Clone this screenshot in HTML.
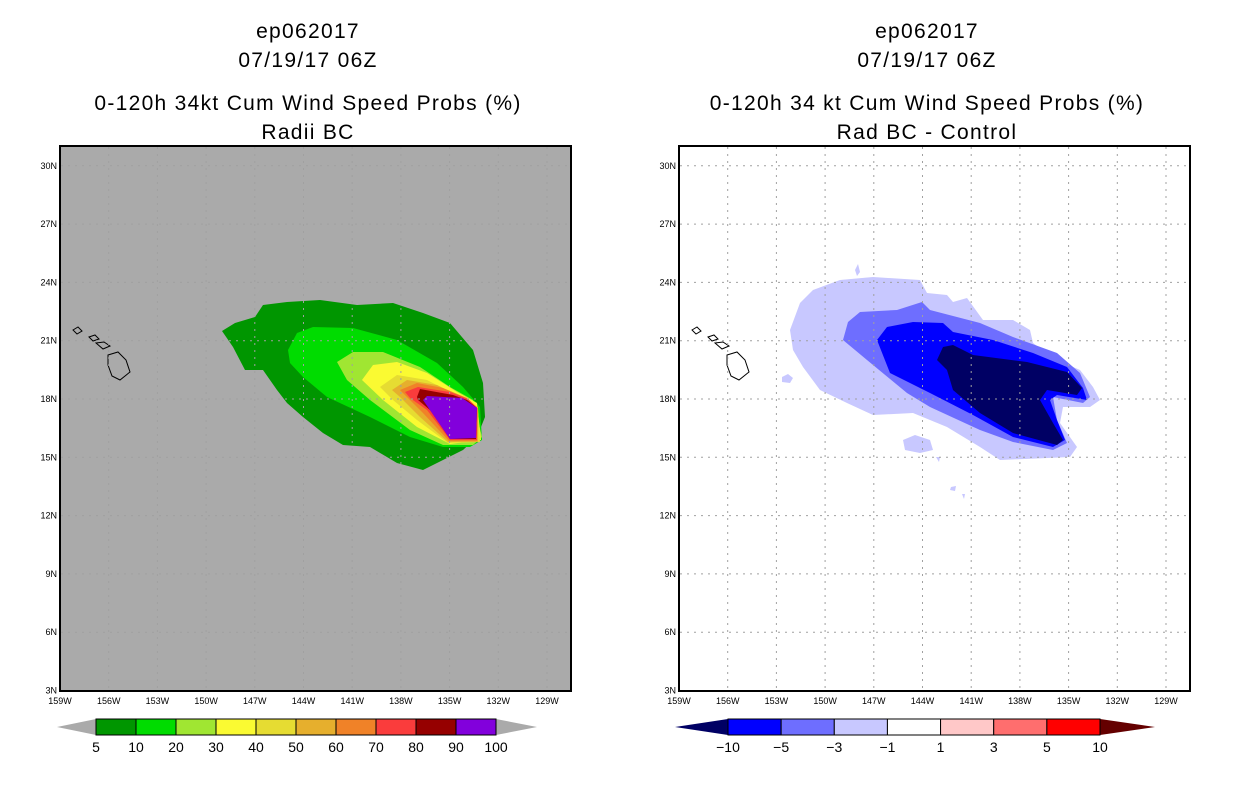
<!DOCTYPE html>
<html><head><meta charset="utf-8"><style>
html,body{margin:0;padding:0;background:#fff;}
svg text{font-family:"Liberation Sans",sans-serif;}
</style></head><body>
<svg id="root" width="1236" height="800" xmlns="http://www.w3.org/2000/svg">
<g id="titles" fill="#000" font-size="21" text-anchor="middle" letter-spacing="1.3">
<text x="308" y="38">ep062017</text>
<text x="308" y="67">07/19/17 06Z</text>
<text x="308" y="110">0-120h 34kt Cum Wind Speed Probs (%)</text>
<text x="308" y="139">Radii BC</text>
<text x="927" y="38">ep062017</text>
<text x="927" y="67">07/19/17 06Z</text>
<text x="927" y="110">0-120h 34 kt Cum Wind Speed Probs (%)</text>
<text x="927" y="139">Rad BC - Control</text>
</g>
<g id="left"></g>
<g id="right"></g>
</svg>
<script>
// axis data
const lonTicks = [159,156,153,150,147,144,141,138,135,132,129];
const latTicks = [30,27,24,21,18,15,12,9,6,3];
const leftLevels = ["5","10","20","30","40","50","60","70","80","90","100"];
const leftColors = ["#009600","#00dc00","#a0e632","#fafa32","#e6dc32","#e6af2d","#f08228","#fa3c3c","#960000","#8200dc"];
const rightLevels = ["-10","-5","-3","-1","1","3","5","10"];
const rightColors = ["#0000ff","#6e6eff","#c8c8ff","#ffffff","#ffc8c8","#ff6e6e","#ff0000"];
const NS="http://www.w3.org/2000/svg";
function lonX(lon,off){return 60+off+(159-lon)/3*48.7;}
function latY(lat){return 399-(lat-18)/3*58.3;}
function el(t,a,p){const e=document.createElementNS(NS,t);for(const k in a)e.setAttribute(k,a[k]);p.appendChild(e);return e;}
// contour outlines (screen-space in left panel frame)
const leftContours=[
"222,331 235,323 255,317 263,305 287,302 320,300 357,305 393,303 423,313 450,323 473,350 483,383 485,417 477,437 463,450 443,460 423,470 397,463 370,447 343,445 323,433 303,417 287,403 277,390 263,370 245,370 233,347",
"288,350 297,333 313,327 353,328 397,340 437,363 463,387 480,407 482,440 470,447 443,447 410,437 370,417 327,397 303,377 290,363",
"337,362 353,352 383,352 420,367 450,387 473,400 482,437 473,445 443,445 410,430 370,400 347,380",
"362,380 373,365 397,362 427,373 457,392 477,403 481,440 450,444 417,427 383,400",
"380,387 397,375 427,380 460,397 478,407 480,442 448,443 417,420 393,400",
"392,390 407,380 437,385 463,398 478,408 478,442 448,442 420,417 400,397",
"400,390 417,383 443,388 467,398 478,408 477,441 449,441 423,413 407,397",
"405,392 418,387 450,392 468,399 477,408 477,440 450,440 427,410 410,398",
"417,397 420,389 453,395 467,400 477,408 476,439 450,439 430,410 418,400",
"423,400 427,396 462,398 477,408 476,438 450,439 432,413"];
const rightContours=[
["790,330 800,303 813,290 840,280 873,277 920,280 927,293 947,295 953,302 967,298 983,320 1013,320 1030,330 1033,343 1057,360 1080,370 1093,387 1100,400 1090,407 1063,407 1060,423 1077,447 1070,457 1000,460 980,447 947,427 913,413 873,415 847,403 820,390 803,367 793,350","#c8c8ff"],
["782,377 788,374 793,378 790,383 782,382","#c8c8ff"],
["903,440 915,435 930,440 933,450 920,453 905,450","#c8c8ff"],
["855,270 858,264 860,272 857,276","#c8c8ff"],
["936,457 940,457 939,462","#c8c8ff"],["951,487 956,486 955,491 950,490","#c8c8ff"],["962,494 965,494 964,499","#c8c8ff"],
["843,340 848,322 860,312 897,310 922,302 930,310 980,323 1013,337 1057,353 1080,373 1090,397 1083,403 1053,397 1057,420 1067,443 1053,450 1013,442 980,430 930,407 907,393 867,360","#6e6eff"],
["877,340 887,327 913,322 943,323 953,332 993,340 1033,353 1067,367 1083,388 1087,400 1057,395 1050,400 1057,420 1065,440 1053,447 1013,437 973,415 930,393 890,373","#0000ff"],
["937,360 943,347 953,345 973,355 1027,362 1067,372 1082,388 1077,395 1047,390 1040,400 1053,423 1063,440 1057,445 1013,433 980,413 953,390 947,370","#000064"]];
const islands=["73,330 78,327 82,331 77,334","89,337 95,335 99,339 93,341","96,343 104,342 110,346 103,349","108,355 118,352 126,360 130,372 120,380 112,376 108,365"];
function panel(g,off,bg,cont,rightSide){
  el('rect',{x:60+off,y:146,width:511,height:545,fill:bg},g);
  const cg=el('g',{},g);
  cont.forEach((c,i)=>{
    const pts=rightSide?c[0]:c;const col=rightSide?c[1]:leftColors[i];
    const p=el('polygon',{points:pts.split(' ').map(s=>{const [a,b]=s.split(',');return (+a+(rightSide?0:0))+','+b;}).join(' '),fill:col},cg);
    
  });
  islands.forEach(s=>{const p=el('polygon',{points:s.split(' ').map(q=>{const [a,b]=q.split(',');return (+a+off)+','+b;}).join(' '),fill:bg==="#aaaaaa"?"#aaaaaa":"#fff",stroke:"#000","stroke-width":1},g);
    });
  const grid=el('g',{stroke:'#a0a0a0','stroke-dasharray':'2,5','stroke-width':1},g);
  
  lonTicks.forEach(l=>{const x=lonX(l,off);if(x>61+off&&x<570+off){el('line',{x1:x,x2:x,y1:147,y2:690},grid);}});
  latTicks.forEach(l=>{const y=latY(l);if(y>147&&y<689){el('line',{x1:61+off,x2:570+off,y1:y,y2:y},grid);}});
  el('rect',{x:60+off,y:146,width:511,height:545,fill:'none',stroke:'#000','stroke-width':2},g);
  const ax=el('g',{'font-size':9,fill:'#000'},g);
  lonTicks.forEach(l=>{const t=el('text',{x:lonX(l,off),y:704,'text-anchor':'middle'},ax);t.textContent=l+'W';
    });
  latTicks.forEach(l=>{const t=el('text',{x:57+off,y:latY(l)+3,'text-anchor':'end'},ax);t.textContent=l+'N';
    });
}
const L=document.getElementById('left'),R=document.getElementById('right');
panel(L,0,'#aaaaaa',leftContours,false);
panel(R,619,'#ffffff',rightContours,true);
// left colorbar
const lcb=el('g',{},L);
el('polygon',{points:'57,727 96,719 96,735',fill:'#aaaaaa'},lcb);
el('polygon',{points:'537,727 496,719 496,735',fill:'#aaaaaa'},lcb);
leftColors.forEach((c,i)=>{const r=el('rect',{x:96+i*40,y:719,width:40,height:16,fill:c,stroke:'#000','stroke-width':1},lcb);});
leftLevels.forEach((t,i)=>{const e=el('text',{x:96+i*40,y:752,'text-anchor':'middle','font-size':14},lcb);e.textContent=t;});
// right colorbar
const rcb=el('g',{},R);
const bw=(1100-728)/rightColors.length;
el('polygon',{points:'675,727 728,719 728,735',fill:'#000064'},rcb);
el('polygon',{points:'1155,727 1100,719 1100,735',fill:'#640000'},rcb);
rightColors.forEach((c,i)=>{const r=el('rect',{x:728+i*bw,y:719,width:bw,height:16,fill:c,stroke:'#000','stroke-width':1},rcb);});
rightLevels.forEach((t,i)=>{const e=el('text',{x:728+i*bw,y:752,'text-anchor':'middle','font-size':14},rcb);e.textContent=t.replace('-','\u2212');});
</script>
</body></html>
